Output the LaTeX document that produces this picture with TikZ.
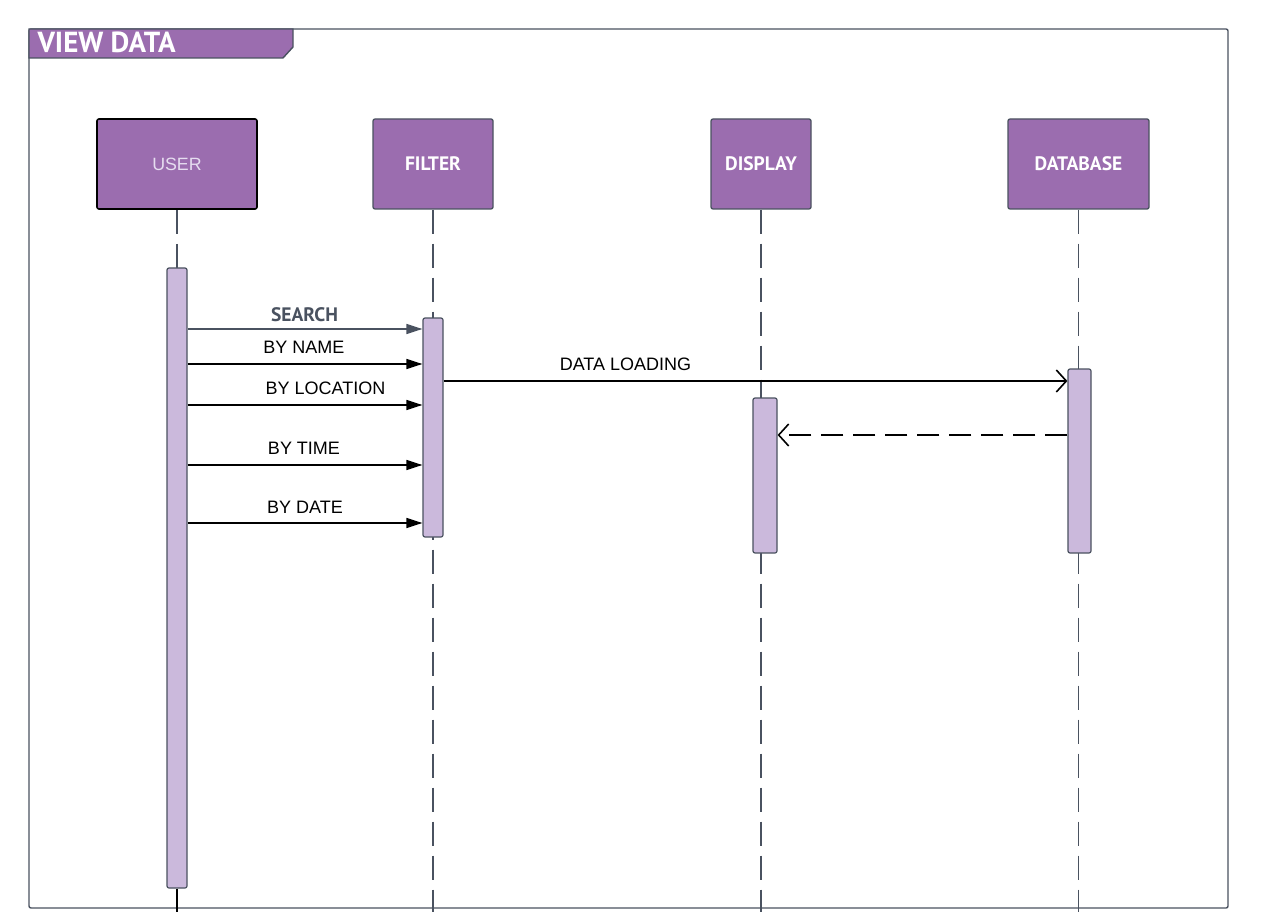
\documentclass[tikz,border=0pt]{standalone}
\usepackage{fontspec}
\setmainfont{Liberation Sans}
\newfontfamily\ptsans{PT Sans}
\usetikzlibrary{arrows.meta}
\definecolor{slate}{HTML}{4A5260}
\definecolor{headfill}{HTML}{9B6DAF}
\definecolor{actfill}{HTML}{CBB9DC}
\definecolor{userTxt}{HTML}{E6DDF0}
\tikzset{
  head/.style={draw=slate, line width=1.3pt, fill=headfill, rounded corners=2pt, text=white, font=\ptsans\bfseries\fontsize{19.5}{21}\selectfont},
  act/.style={draw=slate, line width=1.2pt, fill=actfill, rounded corners=2pt},
  lifeline/.style={draw=slate, line width=1.5pt, dash pattern=on 24pt off 10pt},
  msg/.style={line width=1.4pt, -{Triangle[length=16pt,width=10pt]}},
  msglabel/.style={font=\fontsize{18}{20}\selectfont, anchor=base},
  openmsg/.style={line width=1.4pt, -{Straight Barb[length=10pt,width=22pt,line width=1.6pt]}},
}
\begin{document}
\begin{tikzpicture}[x=1pt,y=-1pt]
\useasboundingbox (0,0) rectangle (1264,912);
% frame
\draw[slate, line width=1.4pt, rounded corners=2pt] (29,29) rectangle (1228,908);
\draw[slate, line width=1.4pt, fill=headfill] (29,29) -- (293,29) -- (293,47) -- (283,58) -- (29,58) -- cycle;
\node[anchor=west, text=white, font=\ptsans\bfseries\fontsize{29}{31}\selectfont] (title) at (34,42) {VIEW DATA};
% heads
\node[head, draw=black, minimum width=160pt, minimum height=90pt, text=userTxt, font=\fontsize{17.8}{20}\selectfont, line width=1.6pt] (user) at (177,164) {USER};
\node[head, minimum width=120pt, minimum height=90pt] (filter) at (433,164) {FILTER};
\node[head, minimum width=100pt, minimum height=90pt] (display) at (761,164) {DISPLAY};
\node[head, minimum width=141pt, minimum height=90pt] (database) at (1078.5,164) {DATABASE};
% lifelines
\coordinate (ue) at (177,912);
\coordinate (fe) at (433,912);
\coordinate (de) at (761,912);
\coordinate (be) at (1078.5,912);
\draw[lifeline] (user.south) -- (ue);
\draw[lifeline] (filter.south) -- (fe);
\draw[lifeline] (display.south) -- (de);
\draw[lifeline] (database.south) -- (be);
% activations
\node[act, minimum width=20pt, minimum height=620pt, inner sep=0pt] (ua) at (177,578) {};
\node[act, minimum width=20pt, minimum height=219pt, inner sep=0pt] (fa) at (433,427.5) {};
\node[act, minimum width=24pt, minimum height=155pt, inner sep=0pt] (da) at (765,475.5) {};
\node[act, minimum width=23pt, minimum height=184pt, inner sep=0pt] (ba) at (1079.5,461) {};
\draw[black, line width=1.2pt] (ua.south) -- (ue);
% messages
\draw[msg, slate] (ua.east |- 0,329) -- (fa.west |- 0,329);
\node[msglabel, text=slate, font=\ptsans\bfseries\fontsize{19.5}{21}\selectfont] (l1) at (304.5,321) {SEARCH};
\draw[msg] (ua.east |- 0,364) -- (fa.west |- 0,364);
\node[msglabel] (l2) at (304,353) {BY NAME};
\draw[msg] (ua.east |- 0,405) -- (fa.west |- 0,405);
\node[msglabel] (l3) at (325.5,394) {BY LOCATION};
\draw[msg] (ua.east |- 0,465) -- (fa.west |- 0,465);
\node[msglabel] (l4) at (304,454) {BY TIME};
\draw[msg] (ua.east |- 0,523) -- (fa.west |- 0,523);
\node[msglabel] (l5) at (305,513) {BY DATE};
\draw[openmsg] (fa.east |- 0,381) -- (ba.west |- 0,381);
\node[msglabel] (l6) at (625.5,370) {DATA LOADING};
\draw[openmsg, dash pattern=on 22pt off 10pt] (ba.west |- 0,435) -- (da.east |- 0,435);
\end{tikzpicture}
\end{document}
